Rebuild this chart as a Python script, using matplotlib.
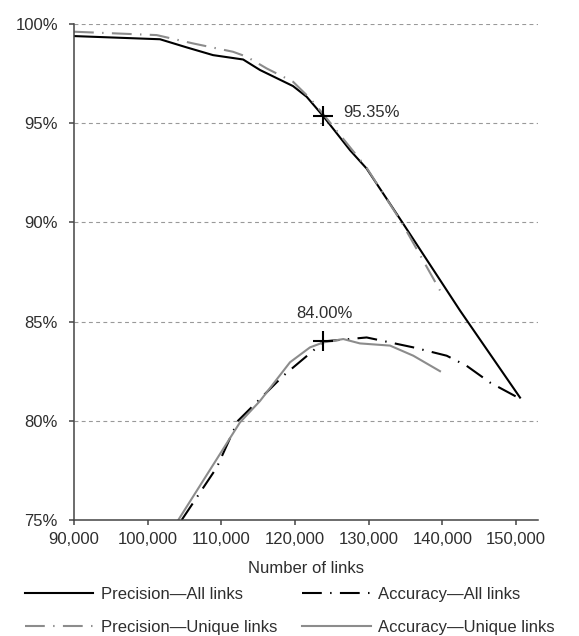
import matplotlib as mpl
mpl.use('agg')
import matplotlib.pyplot as plt
from matplotlib.ticker import FuncFormatter

# Data
prec_all_x = [90000, 101670, 105290, 108870, 112950, 115240, 119720, 121570,
              123830, 127450, 129710, 134460, 142370, 150520]
prec_all_y = [99.39, 99.23, 98.82, 98.43, 98.21, 97.68, 96.87, 96.33,
              95.35, 93.64, 92.71, 90.05, 85.56, 81.17]

prec_uni_x = [90000, 101220, 106150, 111570, 113430, 116140, 119720, 122020,
              123830, 129710, 134460, 139660]
prec_uni_y = [99.61, 99.44, 99.02, 98.6, 98.35, 97.76, 97.09, 96.25,
              95.45, 92.75, 90.0, 86.57]

acc_all_x = [104610, 109360, 112250, 118400, 122470, 123830, 129710, 136040,
             140570, 143280, 146440, 150240]
acc_all_y = [75.0, 77.64, 80.0, 82.27, 83.54, 84.0, 84.2, 83.7,
             83.28, 82.77, 81.93, 81.17]

acc_uni_x = [104150, 112520, 115240, 119310, 122020, 123830, 126540, 128800,
             132880, 136040, 139660]
acc_uni_y = [75.0, 79.92, 81.0, 82.95, 83.7, 83.95, 84.12, 83.9,
             83.79, 83.28, 82.5]

peak_x = [123830, 123830]
peak_y = [95.35, 84.00]
peak_labels = ["95.35%", "84.00%"]

x_ticks = [90000, 100000, 110000, 120000, 130000, 140000, 150000]
y_ticks = [75, 80, 85, 90, 95, 100]

plt.rcParams['font.family'] = ['Liberation Sans', 'DejaVu Sans']
plt.rcParams['font.size'] = 12

txt = '#2e2e2e'
gray = '#8c8c8c'
dashdot = (9.5, 4, 0.7, 4)

fig = plt.figure(figsize=(5.79, 6.36), dpi=100)
ax = fig.add_axes([0.1278, 0.1824, 0.8014, 0.7799])

ax.plot(prec_all_x, prec_all_y, color='black', lw=1.5, label='Precision\u2014All links')
ax.plot(acc_all_x, acc_all_y, color='black', lw=1.5, dashes=dashdot,
        label='Accuracy\u2014All links')
ax.plot(prec_uni_x, prec_uni_y, color=gray, lw=1.5, dashes=dashdot,
        label='Precision\u2014Unique links')
ax.plot(acc_uni_x, acc_uni_y, color=gray, lw=1.5, label='Accuracy\u2014Unique links')

ax.plot(peak_x, peak_y, linestyle='none', marker='+', color='black',
        markersize=14, markeredgewidth=1.5, zorder=5)
ax.annotate(peak_labels[0], (peak_x[0], peak_y[0]), xytext=(14, 2.5),
            textcoords='offset points', ha='left', va='center', color=txt)
ax.annotate(peak_labels[1], (peak_x[1], peak_y[1]), xytext=(1, 20),
            textcoords='offset points', ha='center', va='center', color=txt)

ax.set_xlim(90000, 152960)
ax.set_ylim(75, 100)
ax.set_xticks(x_ticks)
ax.set_yticks(y_ticks)
ax.xaxis.set_major_formatter(FuncFormatter(lambda v, p: f"{int(v):,}"))
ax.yaxis.set_major_formatter(FuncFormatter(lambda v, p: f"{int(v)}%"))
ax.tick_params(colors='#444444', labelcolor=txt, labelsize=12, length=3.6, width=1.1)
ax.tick_params(axis='x', pad=5)
ax.tick_params(axis='y', pad=8)

for y in y_ticks[1:]:
    ax.axhline(y, color='#999999', lw=0.8, linestyle=(0, (3.5, 3)), zorder=0)

for s in ['top', 'right']:
    ax.spines[s].set_visible(False)
for s in ['left', 'bottom']:
    ax.spines[s].set_color('#444444')
    ax.spines[s].set_linewidth(1.1)

ax.set_xlabel("Number of links", color=txt, labelpad=10)

handles, labels = ax.get_legend_handles_labels()
order = [0, 2, 1, 3]
fig.legend([handles[i] for i in order], [labels[i] for i in order],
           loc='upper left', bbox_to_anchor=(25 / 579, 1 - 587 / 636), ncol=2,
           frameon=False, handlelength=4.1, columnspacing=1.5, handletextpad=0.45,
           labelspacing=1.1, borderpad=0, borderaxespad=0, labelcolor=txt)

fig.savefig('out.png', dpi=100)
